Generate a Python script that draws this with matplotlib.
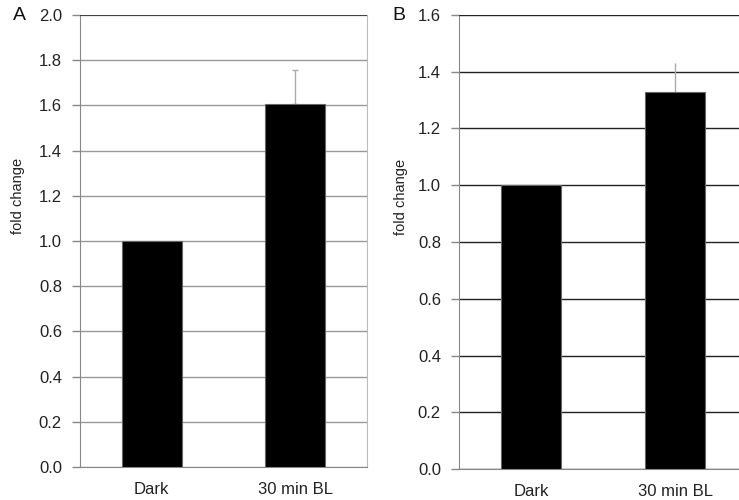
import matplotlib.pyplot as plt
import numpy as np

plt.rcParams['font.family'] = ['Liberation Sans', 'DejaVu Sans']

categories = ['Dark', '30 min BL']

# panel A
vals_a = [1.0, 1.605]
err_a = [0.0, 0.15]
yticks_a = np.arange(0, 2.01, 0.2)

# panel B
vals_b = [1.0, 1.33]
err_b = [0.0, 0.10]
yticks_b = np.arange(0, 1.61, 0.2)

W, H = 739, 500
fig = plt.figure(figsize=(W / 100, H / 100), dpi=100)

def px_axes(left, right, top, bottom):
    return fig.add_axes([left / W, 1 - bottom / H, (right - left) / W, (bottom - top) / H])

ax_a = px_axes(80, 367, 15, 467)
ax_b = px_axes(459, 747, 15, 469)

def draw(ax, vals, err, yticks, grid_col, cap, letter, label_x):
    x = np.arange(len(categories))
    ax.bar(x, vals, width=0.42, color='black', edgecolor='#666666', linewidth=0.8, zorder=3)
    ax.errorbar(x[1:], vals[1:], yerr=[[0], err[1:]], fmt='none', ecolor='#aaaaaa',
                elinewidth=1, capsize=cap, capthick=1, zorder=2)
    ax.set_xlim(-0.5, len(categories) - 0.5)
    ax.set_ylim(yticks[0], yticks[-1])
    ax.set_yticks(yticks)
    ax.set_yticklabels(['%.1f' % t for t in yticks])
    ax.set_xticks(x)
    ax.set_xticklabels(categories)
    ax.yaxis.grid(True, color=grid_col, linewidth=1)
    ax.set_axisbelow(True)
    ax.tick_params(axis='y', length=6, width=1, color='#888888', pad=7, labelsize=12, labelcolor='#222222')
    ax.tick_params(axis='x', length=0, pad=11, labelsize=12, labelcolor='#222222')
    ax.spines['left'].set_color('#888888')
    ax.spines['bottom'].set_color('#888888')
    ax.spines['top'].set_visible(False)
    ax.spines['right'].set_visible(False)
    ax.set_ylabel('fold change', fontsize=10.5, color='#222222')
    ax.yaxis.set_label_coords(label_x, 0.60)
    ax.text(-0.235 if letter == 'A' else -0.23, 1.0, letter, transform=ax.transAxes,
            fontsize=14, ha='left', va='center', color='#111111')

draw(ax_a, vals_a, err_a, yticks_a, '#999999', 2.5, 'A', -0.19)
draw(ax_b, vals_b, err_b, yticks_b, '#222222', 0, 'B', -0.177)

# panel A has a dark top line and a faint right border
ax_a.axhline(yticks_a[-1], color='#333333', linewidth=1.2, zorder=4)
ax_a.spines['right'].set_visible(True)
ax_a.spines['right'].set_color('#bbbbbb')
ax_b.axhline(yticks_b[-1], color='#222222', linewidth=1.2, zorder=4)

fig.savefig('out.png', dpi=100)
